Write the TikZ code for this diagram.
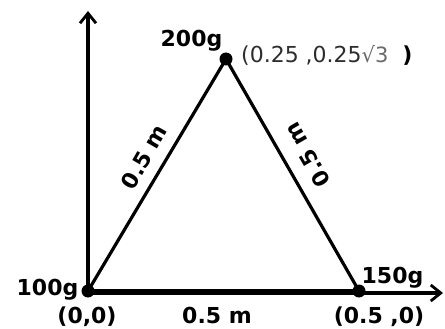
\documentclass[tikz,border=0pt]{standalone}
\usepackage{fontspec}
\setmainfont{DejaVu Sans}
\usetikzlibrary{arrows.meta}
\definecolor{txtgray}{RGB}{45,45,45}
\definecolor{lightgray2}{RGB}{105,105,105}
\begin{document}
\begin{tikzpicture}[x=1pt,y=-1pt,
  dot/.style={circle,fill=black,inner sep=0pt,minimum size=13pt},
  lbl/.style={font=\fontsize{22}{24}\selectfont\bfseries, inner sep=0pt},
  coordlbl/.style={font=\fontsize{22}{24}\selectfont, inner sep=0pt},
  edge/.style={line width=3.2pt},
  axis/.style={line width=3.2pt,-{Straight Barb[length=10pt,width=16pt,line width=2.8pt]}}]
\useasboundingbox (0,0) rectangle (445,329);
% vertices
\node[dot] (O) at (88,291) {};
\node[dot] (R) at (359,291) {};
\node[dot] (T) at (226,59) {};
\coordinate (ytip) at (88,11);
\coordinate (xtip) at (443,293);
% axes
\draw[axis] (O.center) -- (ytip);
\draw[axis] (88,293) -- (xtip);
% triangle
\draw[edge] (O.center) -- (T.center) -- (R.center);
\draw[line width=4.2pt] (O.center) -- (R.center);
% labels
\node[lbl,anchor=base] (m200) at (191.5,47) {200g};
\node[lbl,anchor=base] (m100) at (47.5,295) {100g};
\node[lbl,anchor=base] (m150) at (392.5,283) {150g};
\node[lbl,anchor=base] (c00) at (87,323) {(0,0)};
\node[lbl,anchor=base] (c50) at (379,323) {(0.5 ,0)};
\node[lbl,anchor=base] (bot) at (217,323) {0.5 m};
\node[lbl,rotate=60] (left) at (144,157) {0.5 m};
\node[lbl,rotate=120] (right) at (307,155) {0.5 m};
\node[coordlbl,anchor=base west] (cT) at (241,63) {{\color{txtgray}(0.25 ,0.25}{\color{lightgray2}\fontsize{21}{24}\selectfont √3}\ \ {\bfseries )}};
\end{tikzpicture}
\end{document}
